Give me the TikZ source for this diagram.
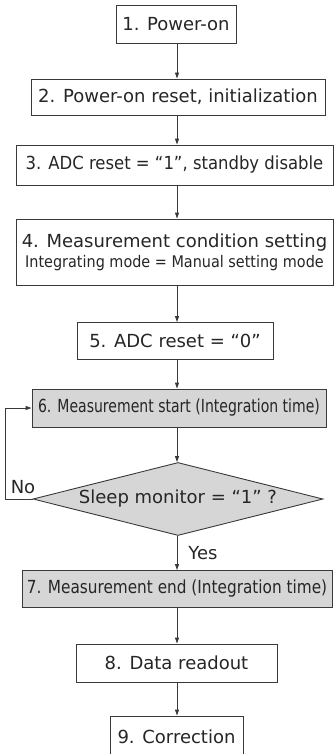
\documentclass[tikz,border=0pt]{standalone}
\usepackage{fontspec}
\setmainfont{DejaVu Sans}
\usepackage{graphicx}
\usepackage{tikz}
\usetikzlibrary{arrows.meta,shapes.geometric}

\definecolor{linegray}{HTML}{3A3A3A}
\definecolor{fillgray}{HTML}{D6D6D6}
\definecolor{textgray}{HTML}{262626}

\newcommand{\squeeze}[2]{\scalebox{#1}[1]{#2}}

\begin{document}
\begin{tikzpicture}[x=1pt, y=-1pt,
    every node/.style={font=\fontsize{18}{22}\selectfont, text=textgray},
    stepbox/.style={draw=linegray, line width=0.9pt, fill=white, inner sep=0pt},
    greybox/.style={stepbox, fill=fillgray},
    arr/.style={draw=linegray, line width=0.9pt, -{Triangle[length=6pt,width=4pt]}}]
    \useasboundingbox (0,0) rectangle (334,754);
    \coordinate (axis) at (177,0); %Arrow column

    %Boxes
    \node[stepbox, minimum width=120, minimum height=38] (n1) at (176,24) {1. Power-on};
    \node[stepbox, minimum width=294, minimum height=36] (n2) at (178,97) {2. Power-on reset, initialization};
    \node[stepbox, minimum width=317, minimum height=40] (n3) at (174.5,165) {\squeeze{0.915}{3. ADC reset = “1”, standby disable}};
    \node[stepbox, minimum width=317, minimum height=66, align=center] (n4) at (174.5,252)
        {4. Measurement condition setting\\[-2pt]{\fontsize{16}{19}\selectfont\squeeze{0.9}{Integrating mode = Manual setting mode}}};
    \node[stepbox, minimum width=196, minimum height=37] (n5) at (175,341) {5. ADC reset = “0”};
    \node[greybox, minimum width=294, minimum height=38] (n6) at (179,408) {\squeeze{0.78}{6. Measurement start (Integration time)}};

    %Decision
    \node[diamond, aspect=4, draw=linegray, line width=0.9pt, fill=fillgray, inner sep=0pt,
        minimum width=290, minimum height=73] (dia) at (178,499) {Sleep monitor = “1” ?};

    \node[greybox, minimum width=310, minimum height=37] (n7) at (177,589) {\squeeze{0.85}{7. Measurement end (Integration time)}};
    \node[stepbox, minimum width=201, minimum height=38] (n8) at (176.5,663) {8. Data readout};
    \node[stepbox, minimum width=133, minimum height=42] (n9) at (176.5,737) {9. Correction};

    %Connectors
    \foreach \a/\b in {n1/n2, n2/n3, n3/n4, n4/n5, n5/n6, n6/dia, dia/n7, n7/n8, n8/n9}
        \draw[arr] (axis |- \a.south) -- (axis |- \b.north);

    %Loop back
    \coordinate (loop) at (5,0);
    \draw[arr] (dia.west) -- (dia.west -| loop) |- (n6.west);

    %Labels
    \node (no) at (23,487) {No};
    \node (yes) at (203,553) {Yes};
\end{tikzpicture}
\end{document}
